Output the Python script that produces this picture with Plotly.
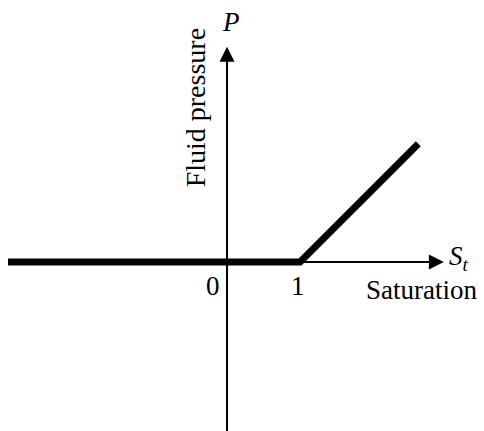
import plotly.graph_objects as go

# Data: fluid pressure vs saturation (piecewise linear)
sat = [-3.0, 1.0, 2.62]
pressure = [0.0, 0.0, 1.62]

x_ticks = [0, 1]
x_tick_labels = ["0", "1"]

FONT = "Liberation Serif, Times New Roman, serif"

fig = go.Figure()
fig.add_trace(go.Scatter(x=sat, y=pressure, mode="lines",
                         line=dict(color="black", width=7),
                         hoverinfo="skip", showlegend=False))

ann = []
# x axis arrow
ann.append(dict(x=2.97, y=0, ax=0, ay=0, xref="x", yref="y", axref="x", ayref="y",
                text="", showarrow=True, arrowhead=2, arrowsize=1.5, arrowwidth=2,
                arrowcolor="black"))
# y axis arrow
ann.append(dict(x=0, y=2.95, ax=0, ay=-2.4, xref="x", yref="y", axref="x", ayref="y",
                text="", showarrow=True, arrowhead=2, arrowsize=1.5, arrowwidth=2,
                arrowcolor="black"))
# tick labels
for xv, lab in zip(x_ticks, x_tick_labels):
    ann.append(dict(x=xv - 0.19 if xv == 0 else xv - 0.03, y=-0.33, xref="x", yref="y",
                    text=lab, showarrow=False, font=dict(family=FONT, size=27, color="black")))
ann.append(dict(x=0.05, y=3.29, xref="x", yref="y", text="<i>P</i>", showarrow=False,
                font=dict(family=FONT, size=27, color="black")))
ann.append(dict(x=3.18, y=0.06, xref="x", yref="y", text="<i>S<sub>t</sub></i>", showarrow=False,
                font=dict(family=FONT, size=27, color="black")))
ann.append(dict(x=2.66, y=-0.38, xref="x", yref="y", text="Saturation", showarrow=False,
                font=dict(family=FONT, size=27, color="black")))
ann.append(dict(x=-0.42, y=2.11, xref="x", yref="y", text="Fluid pressure", showarrow=False,
                textangle=-90, font=dict(family=FONT, size=28, color="black")))

fig.update_layout(
    width=484, height=431,
    margin=dict(l=0, r=0, t=0, b=0),
    paper_bgcolor="white", plot_bgcolor="white",
    xaxis=dict(range=[-3.11, 3.52], visible=False, fixedrange=True),
    yaxis=dict(range=[-2.315, 3.589], visible=False, fixedrange=True),
    annotations=ann,
)
fig.write_html("out.html", config={"displayModeBar": False},
               post_script="document.body.style.margin='0';document.body.style.overflow='hidden';")
